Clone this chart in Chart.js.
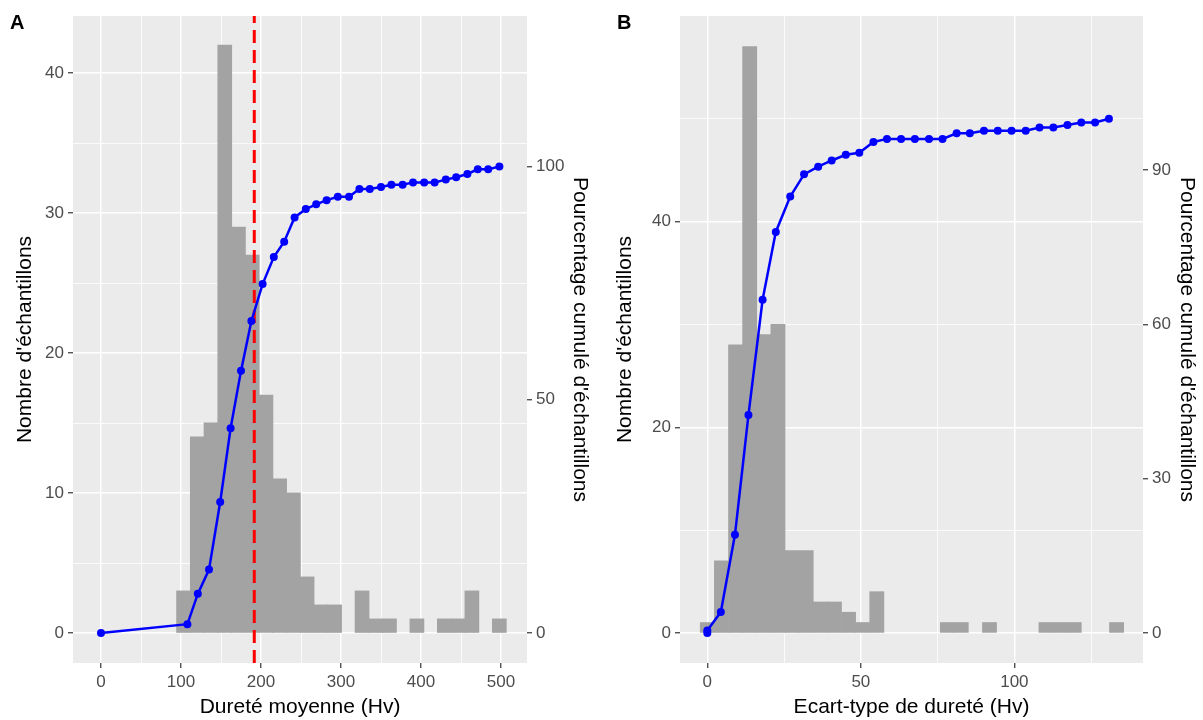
<!DOCTYPE html>
<html>
<head>
<meta charset="utf-8">
<script src="https://cdn.jsdelivr.net/npm/chart.js@4.4.1/dist/chart.umd.min.js"></script>
<style>
  body { margin: 0; background: #fff; width: 1203px; height: 720px; position: relative; overflow: hidden;
         font-family: "Liberation Sans", Arial, sans-serif; }
  canvas { position: absolute; top: 0; }
  #chartA { left: 0; }
  #chartB { left: 600px; }
  .tag { position: absolute; top: 11px; font-weight: bold; font-size: 20px; color: #000; }
</style>
</head>
<body>
<canvas id="chartA" width="600" height="720"></canvas>
<canvas id="chartB" width="603" height="720"></canvas>
<div class="tag" style="left:10px">A</div>
<div class="tag" style="left:617px">B</div>
<script>
// PANEL A - mean hardness
const binsA = [103.2, 120.4, 137.5, 154.7, 171.8, 189.0, 206.2, 223.3, 240.5, 257.6, 274.8, 292.0,
               309.1, 326.3, 343.4, 360.6, 377.8, 394.9, 412.1, 429.2, 446.4, 463.6, 480.7, 497.9];
const countsA = [3, 14, 15, 42, 29, 27, 17, 11, 10, 4, 2, 2, 0, 3, 1, 1, 0, 1, 0, 1, 1, 3, 0, 1];
const cumXA = [0, 108, 121, 135, 149, 162, 175, 188, 202, 216, 229, 242, 256, 269, 282, 296,
               310, 323, 336, 350, 363, 377, 390, 404, 417, 431, 444, 458, 471, 484, 498];
const cumPctA = [0, 1.9, 8.4, 13.6, 28.1, 43.9, 56.2, 66.9, 74.8, 80.6, 83.9, 89.1, 90.9, 91.9, 92.8, 93.5,
                 93.5, 95.2, 95.2, 95.6, 96.1, 96.1, 96.6, 96.6, 96.6, 97.2, 97.7, 98.4, 99.4, 99.4, 100];
const medianA = 191.6;

// PANEL B - hardness standard deviation
const binsB = [0, 4.6, 9.2, 13.8, 18.4, 23.0, 27.6, 32.2, 36.8, 41.4, 46.0, 50.6, 55.2, 59.8, 64.4,
               69.0, 73.6, 78.2, 82.7, 87.3, 91.9, 96.5, 101.1, 105.7, 110.3, 114.9, 119.5, 124.1, 128.7, 133.3];
const countsB = [1, 7, 28, 57, 29, 30, 8, 8, 3, 3, 2, 1, 4, 0, 0, 0, 0, 1, 1, 0, 1, 0, 0, 0, 1, 1, 1, 0, 0, 1];
const cumXB = [0, 0, 4.4, 9.0, 13.4, 18.0, 22.3, 27.0, 31.5, 36.1, 40.5, 45.1, 49.5, 54.1, 58.5, 63.1,
               67.6, 72.2, 76.6, 81.2, 85.5, 90.1, 94.6, 99.1, 103.7, 108.2, 112.7, 117.3, 121.8, 126.3, 130.8];
const cumPctB = [0, 0.5, 4.1, 19.1, 42.4, 64.8, 78.0, 84.9, 89.2, 90.7, 91.9, 93.0, 93.4, 95.5, 96.1, 96.1,
                 96.1, 96.1, 96.1, 97.2, 97.2, 97.7, 97.7, 97.7, 97.7, 98.3, 98.3, 98.8, 99.3, 99.3, 100];

// axis ranges and ticks
const xRangeA = [-35, 532.5], yRangeA = [-2.14, 44.09], pctRangeA = [-6.42, 132.27];
const xRangeB = [-8.9, 141.9], yRangeB = [-2.92, 60.0], pctRangeB = [-5.84, 120.0];
const xMajorA = [0, 100, 200, 300, 400, 500], xMinorA = [50, 150, 250, 350, 450];
const yMajorA = [0, 10, 20, 30, 40], yMinorA = [5, 15, 25, 35];
const pctTicksA = [0, 50, 100];
const xMajorB = [0, 50, 100], xMinorB = [25, 75, 125];
const yMajorB = [0, 20, 40], yMinorB = [10, 30, 50];
const pctTicksB = [0, 30, 60, 90];

const FONT = '"Liberation Sans", Arial, sans-serif';

// grey panel behind the grid
const panelBg = {
  id: 'panelBg',
  beforeDraw(chart) {
    const { ctx, chartArea: a } = chart;
    ctx.save();
    ctx.fillStyle = '#EBEBEB';
    ctx.fillRect(a.left, a.top, a.right - a.left, a.bottom - a.top);
    ctx.restore();
  }
};

function axis(o) {
  const minor = o.minor || [];
  const all = o.major.concat(minor).sort((a, b) => a - b);
  const isMajor = c => c.tick && o.major.includes(c.tick.value);
  return {
    type: 'linear',
    position: o.position,
    min: o.range[0],
    max: o.range[1],
    bounds: 'data',
    offset: false,
    afterBuildTicks: s => { s.ticks = all.map(v => ({ value: v })); },
    afterFit: s => { if (o.position === 'bottom') s.height = o.size; else s.width = o.size; },
    border: { display: false },
    grid: {
      offset: false,
      drawOnChartArea: o.grid !== false,
      color: '#FFFFFF',
      lineWidth: c => isMajor(c) ? 1.5 : 0.8,
      drawTicks: true,
      tickLength: 5,
      tickWidth: 1.2,
      tickColor: c => isMajor(c) ? '#333333' : 'rgba(0,0,0,0)'
    },
    ticks: {
      autoSkip: false,
      maxRotation: 0,
      padding: 4,
      color: '#4D4D4D',
      font: { size: 17, family: FONT },
      callback: v => o.major.includes(v) ? String(v) : ''
    },
    title: {
      display: true,
      text: o.title,
      color: '#000000',
      font: { size: 21, family: FONT },
      padding: { top: o.titlePad, bottom: 0 }
    }
  };
}

function makePanel(id, p) {
  // empty bins are left out so nothing is drawn there
  const bars = p.bins.map((x, i) => ({ x: x, y: p.counts[i] })).filter(d => d.y > 0);
  const cum = p.cumX.map((x, i) => ({ x: x, y: p.cumPct[i] }));
  const datasets = [
    {
      type: 'line', data: cum, yAxisID: 'y2', order: 0,
      borderColor: '#0000FF', backgroundColor: '#0000FF', borderWidth: 2.5,
      pointRadius: 4, pointBorderWidth: 0, tension: 0
    },
    {
      type: 'bar', data: bars, yAxisID: 'y', order: 2,
      backgroundColor: '#A3A3A3', borderWidth: 0, inflateAmount: 0.5,
      barPercentage: 1, categoryPercentage: 1
    }
  ];
  if (p.median !== undefined) {
    datasets.push({
      type: 'line', yAxisID: 'y', order: 1,
      data: [{ x: p.median, y: p.yRange[0] }, { x: p.median, y: p.yRange[1] }],
      borderColor: '#FF0000', borderWidth: 3, borderDash: [13, 7], pointRadius: 0
    });
  }
  return new Chart(document.getElementById(id).getContext('2d'), {
    type: 'bar',
    data: { datasets: datasets },
    options: {
      responsive: false,
      animation: false,
      devicePixelRatio: 1,
      layout: { padding: { top: 16, left: 0, right: 0, bottom: 0 } },
      plugins: { legend: { display: false }, tooltip: { enabled: false } },
      scales: {
        x: axis({ range: p.xRange, major: p.xMajor, minor: p.xMinor, position: 'bottom',
                  title: p.xTitle, titlePad: 0, size: 57 }),
        y: axis({ range: p.yRange, major: p.yMajor, minor: p.yMinor, position: 'left',
                  title: "Nombre d'échantillons", titlePad: 12.4, size: p.leftSize }),
        y2: axis({ range: p.pctRange, major: p.pctTicks, position: 'right', grid: false,
                   title: "Pourcentage cumulé d'échantillons", titlePad: p.rightPad, size: p.rightSize })
      }
    },
    plugins: [panelBg]
  });
}

makePanel('chartA', {
  bins: binsA, counts: countsA, cumX: cumXA, cumPct: cumPctA, median: medianA,
  xRange: xRangeA, yRange: yRangeA, pctRange: pctRangeA,
  xMajor: xMajorA, xMinor: xMinorA, yMajor: yMajorA, yMinor: yMinorA, pctTicks: pctTicksA,
  xTitle: 'Dureté moyenne (Hv)', leftSize: 73, rightSize: 73, rightPad: 7.4
});

makePanel('chartB', {
  bins: binsB, counts: countsB, cumX: cumXB, cumPct: cumPctB,
  xRange: xRangeB, yRange: yRangeB, pctRange: pctRangeB,
  xMajor: xMajorB, xMinor: xMinorB, yMajor: yMajorB, yMinor: yMinorB, pctTicks: pctTicksB,
  xTitle: 'Ecart-type de dureté (Hv)', leftSize: 80, rightSize: 60, rightPad: 3.4
});
</script>
</body>
</html>
